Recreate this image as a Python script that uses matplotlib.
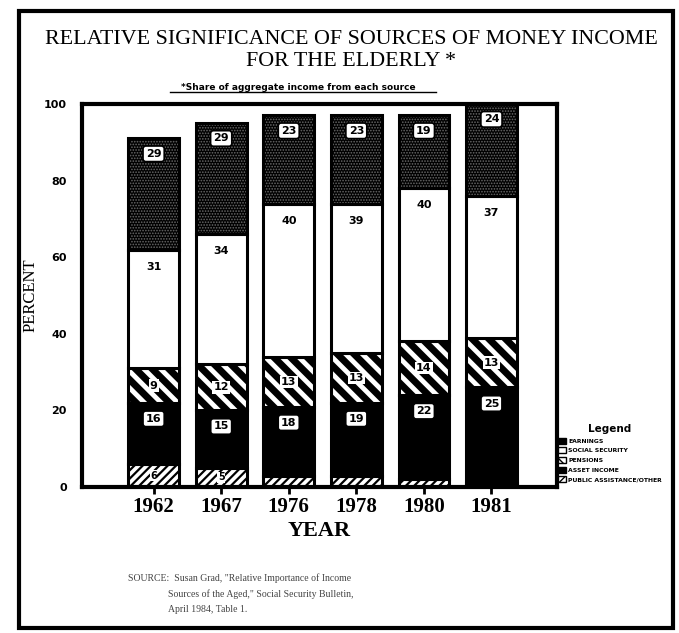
import matplotlib
matplotlib.use("Agg")
import matplotlib.pyplot as plt
from matplotlib.patches import Rectangle, Patch
import numpy as np

W, H = 679, 633

years = ["1962", "1967", "1976", "1978", "1980", "1981"]
other    = [6, 5, 3, 3, 2, 1]
assets   = [16, 15, 18, 19, 22, 25]
pensions = [9, 12, 13, 13, 14, 13]
socsec   = [31, 34, 40, 39, 40, 37]
earnings = [29, 29, 23, 23, 19, 24]

legend_labels = ["EARNINGS", "SOCIAL SECURITY", "PENSIONS",
                 "ASSET INCOME", "PUBLIC ASSISTANCE/OTHER"]

footnote = ["SOURCE:  Susan Grad, \"Relative Importance of Income",
            "Sources of the Aged,\" Social Security Bulletin,",
            "April 1984, Table 1."]


def px(x, y):
    # pixel coords (top-left origin) -> figure fraction
    return x / W, 1 - y / H


fig = plt.figure(figsize=(W / 100, H / 100), dpi=100)
fig.patch.set_facecolor("white")

# page border
fig.patches.append(Rectangle(px(19, 628), (673 - 19) / W, (628 - 11) / H,
                             transform=fig.transFigure, fill=False,
                             linewidth=3, edgecolor="black"))

ax = fig.add_axes([82 / W, 1 - 487 / H, (557 - 82) / W, (487 - 104) / H])

x = np.arange(len(years))
bw = 0.75
serif = "Liberation Serif"

layers = [
    (other,    "white", "////",   "black",   1.6),
    (assets,   "black", None,     "black",   1.0),
    (pensions, "white", "\\\\",   "black",   5.0),
    (socsec,   "white", None,     "black",   1.0),
    (earnings, "black", "......", "#6a6a6a", 0.8),
]

bottom = np.zeros(len(years))
bottoms = []
for vals, fc, hatch, hc, hlw in layers:
    vals = np.array(vals, dtype=float)
    with plt.rc_context({"hatch.linewidth": hlw, "hatch.color": hc}):
        ax.bar(x, vals, bw, bottom=bottom, color=fc, hatch=hatch,
               edgecolor=hc, linewidth=0)
    # solid black outline on top of the hatching
    ax.bar(x, vals, bw, bottom=bottom, fill=False, edgecolor="black", linewidth=2.2)
    bottoms.append(bottom.copy())
    bottom = bottom + vals

box = dict(boxstyle="round,pad=0.25", fc="white", ec="black", lw=1.2)
for i in range(len(years)):
    # earnings (boxed, near top)
    top = bottoms[4][i] + earnings[i]
    ax.text(x[i], top - 4, str(earnings[i]), ha="center", va="center",
            fontsize=8, fontweight="bold", bbox=box)
    # social security
    top = bottoms[3][i] + socsec[i]
    ax.text(x[i], top - 4.5, str(socsec[i]), ha="center", va="center",
            fontsize=8, fontweight="bold")
    # pensions
    ax.text(x[i], bottoms[2][i] + pensions[i] / 2, str(pensions[i]),
            ha="center", va="center", fontsize=8, fontweight="bold",
            bbox=dict(boxstyle="square,pad=0.1", fc="white", ec="none"))
    # assets (boxed)
    top = bottoms[1][i] + assets[i]
    ax.text(x[i], top - 4.2, str(assets[i]), ha="center", va="center",
            fontsize=8, fontweight="bold", bbox=box)
    # other, only where there is room
    if other[i] >= 4:
        ax.text(x[i], other[i] / 2, str(other[i]), ha="center", va="center",
                fontsize=7, fontweight="bold",
                bbox=dict(boxstyle="square,pad=0.05", fc="white", ec="none"))

ax.set_xlim(-1.06, len(years) - 1 + 0.97)
ax.set_ylim(0, 100)
ax.set_yticks([0, 20, 40, 60, 80, 100])
ax.set_yticklabels(["0", "20", "40", "60", "80", "100"],
                   fontsize=8, fontweight="bold")
ax.tick_params(axis="y", length=0, pad=11)
ax.set_xticks(x)
ax.set_xticklabels(years, fontsize=15, fontweight="bold", family=serif)
ax.tick_params(axis="x", length=5, width=2, pad=2)
for s in ax.spines.values():
    s.set_linewidth(3)

ax.set_xlabel("YEAR", fontsize=16, fontweight="bold", family=serif, labelpad=3)
ax.set_ylabel("PERCENT", fontsize=12, family=serif, labelpad=4)

# titles
fig.text(*px(351, 39), "RELATIVE SIGNIFICANCE OF SOURCES OF MONEY INCOME",
         ha="center", va="center", fontsize=15.8, family=serif)
fig.text(*px(351, 62), "FOR THE ELDERLY *", ha="center", va="center",
         fontsize=15.8, family=serif)
fig.text(*px(298, 87), "*Share of aggregate income from each source",
         ha="center", va="center", fontsize=6.5, fontweight="bold")
fig.lines.append(plt.Line2D([px(170, 0)[0], px(436, 0)[0]],
                            [px(0, 92)[1]] * 2, transform=fig.transFigure,
                            color="black", linewidth=1))

# legend
handles = [
    Patch(facecolor="black", edgecolor="black", hatch="......"),
    Patch(facecolor="white", edgecolor="black"),
    Patch(facecolor="white", edgecolor="black", hatch="\\\\\\"),
    Patch(facecolor="black", edgecolor="black"),
    Patch(facecolor="white", edgecolor="black", hatch="////"),
]
leg = fig.legend(handles, legend_labels, loc="upper left",
                 bbox_to_anchor=px(558, 424), frameon=False,
                 title="Legend", fontsize=4.4, handlelength=1.3, handleheight=1.1,
                 handletextpad=0.35, labelspacing=0.6, borderaxespad=0,
                 borderpad=0)
leg.get_title().set_fontweight("bold")
leg.get_title().set_fontsize(7.5)
for t in leg.get_texts():
    t.set_fontweight("bold")

# source note
for k, (line, xs) in enumerate(zip(footnote, [128, 168, 168])):
    fig.text(*px(xs, 578 + 16 * k), line, ha="left", va="center",
             fontsize=7, family=serif, color="#444444")

fig.savefig("out.png", dpi=100)
